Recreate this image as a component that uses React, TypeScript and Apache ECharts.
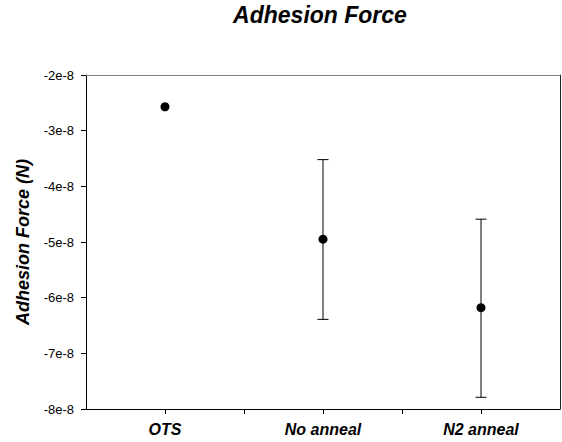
import React, { useEffect, useRef } from "react";
import * as echarts from "echarts";

const categories = ["OTS", "No anneal", "N2 anneal"];
const meanForce = [-2.57e-8, -4.95e-8, -6.18e-8];
const upperForce = [-2.57e-8, -3.52e-8, -4.59e-8];
const lowerForce = [-2.57e-8, -6.39e-8, -7.79e-8];
const yTicks = [-8e-8, -7e-8, -6e-8, -5e-8, -4e-8, -3e-8, -2e-8];

const FONT = "'Liberation Sans', Arial, Helvetica, sans-serif";

export default function App() {
  const ref = useRef<HTMLDivElement>(null);

  useEffect(() => {
    if (!ref.current) return;
    const chart = echarts.init(ref.current, undefined, { renderer: "svg" });

    const points = meanForce.map((v, i) => [i + 0.5, v]);
    const bars = categories.map((_, i) => [i + 0.5, lowerForce[i], upperForce[i]]);

    chart.setOption({
      animation: false,
      backgroundColor: "#ffffff",
      graphic: [
        {
          type: "text",
          x: 320,
          y: 15,
          style: {
            text: "Adhesion Force",
            fontFamily: FONT,
            fontSize: 23,
            fontWeight: "bold",
            fontStyle: "italic",
            fill: "#000",
            textAlign: "center",
            textVerticalAlign: "middle",
          },
        },
      ],
      grid: { left: 86, right: 2, top: 75, bottom: 33, containLabel: false },
      xAxis: [
        {
          type: "value",
          min: 0,
          max: 3,
          interval: 0.5,
          axisLine: { show: true, lineStyle: { color: "#000", width: 1 } },
          axisTick: { show: true, inside: false, length: 5, lineStyle: { color: "#000" } },
          splitLine: { show: false },
          axisLabel: {
            margin: 12,
            fontFamily: FONT,
            fontSize: 16,
            fontWeight: "bold",
            fontStyle: "italic",
            color: "#000",
            showMinLabel: false,
            showMaxLabel: false,
            formatter: (v: number) => {
              const idx = v - 0.5;
              if (Math.abs(idx - Math.round(idx)) < 1e-6) {
                return categories[Math.round(idx)] ?? "";
              }
              return "";
            },
          },
        },
        {
          type: "value",
          position: "top",
          min: 0,
          max: 3,
          axisLine: { show: true, onZero: false, lineStyle: { color: "#808080", width: 1 } },
          axisTick: { show: false },
          axisLabel: { show: false },
          splitLine: { show: false },
        },
      ],
      yAxis: [
        {
          type: "value",
          min: yTicks[0],
          max: yTicks[yTicks.length - 1],
          interval: 1e-8,
          name: "Adhesion Force (N)",
          nameLocation: "middle",
          nameGap: 54,
          nameTextStyle: {
            fontFamily: FONT,
            fontSize: 18,
            fontWeight: "bold",
            fontStyle: "italic",
            color: "#000",
          },
          axisLine: { show: true, onZero: false, lineStyle: { color: "#000", width: 1 } },
          axisTick: { show: true, inside: false, length: 5, lineStyle: { color: "#000" } },
          splitLine: { show: false },
          axisLabel: {
            margin: 12,
            fontFamily: FONT,
            fontSize: 13,
            color: "#000",
            formatter: (v: number) => `${Math.round(v * 1e8)}e-8`,
          },
        },
        {
          type: "value",
          position: "right",
          min: yTicks[0],
          max: yTicks[yTicks.length - 1],
          axisLine: { show: true, onZero: false, lineStyle: { color: "#222", width: 1 } },
          axisTick: { show: false },
          axisLabel: { show: false },
          splitLine: { show: false },
        },
      ],
      series: [
        {
          type: "custom",
          xAxisIndex: 0,
          yAxisIndex: 0,
          data: bars,
          renderItem: (params: any, api: any) => {
            const x = api.value(0);
            const lo = api.value(1);
            const hi = api.value(2);
            if (Math.abs(hi - lo) < 1e-12) return { type: "group", children: [] };
            const pLo = api.coord([x, lo]);
            const pHi = api.coord([x, hi]);
            const cap = 5.5;
            const style = { stroke: "#000", lineWidth: 1 };
            return {
              type: "group",
              children: [
                { type: "line", shape: { x1: pLo[0], y1: pLo[1], x2: pHi[0], y2: pHi[1] }, style },
                { type: "line", shape: { x1: pLo[0] - cap, y1: pLo[1], x2: pLo[0] + cap, y2: pLo[1] }, style },
                { type: "line", shape: { x1: pHi[0] - cap, y1: pHi[1], x2: pHi[0] + cap, y2: pHi[1] }, style },
              ],
            };
          },
          z: 2,
        },
        {
          type: "scatter",
          xAxisIndex: 0,
          yAxisIndex: 0,
          data: points,
          symbol: "circle",
          symbolSize: 9,
          itemStyle: { color: "#000", opacity: 1 },
          z: 3,
        },
      ],
    });

    return () => chart.dispose();
  }, []);

  return (
    <div
      ref={ref}
      style={{ position: "fixed", left: 0, top: 0, width: 562, height: 442, background: "#fff" }}
    />
  );
}
